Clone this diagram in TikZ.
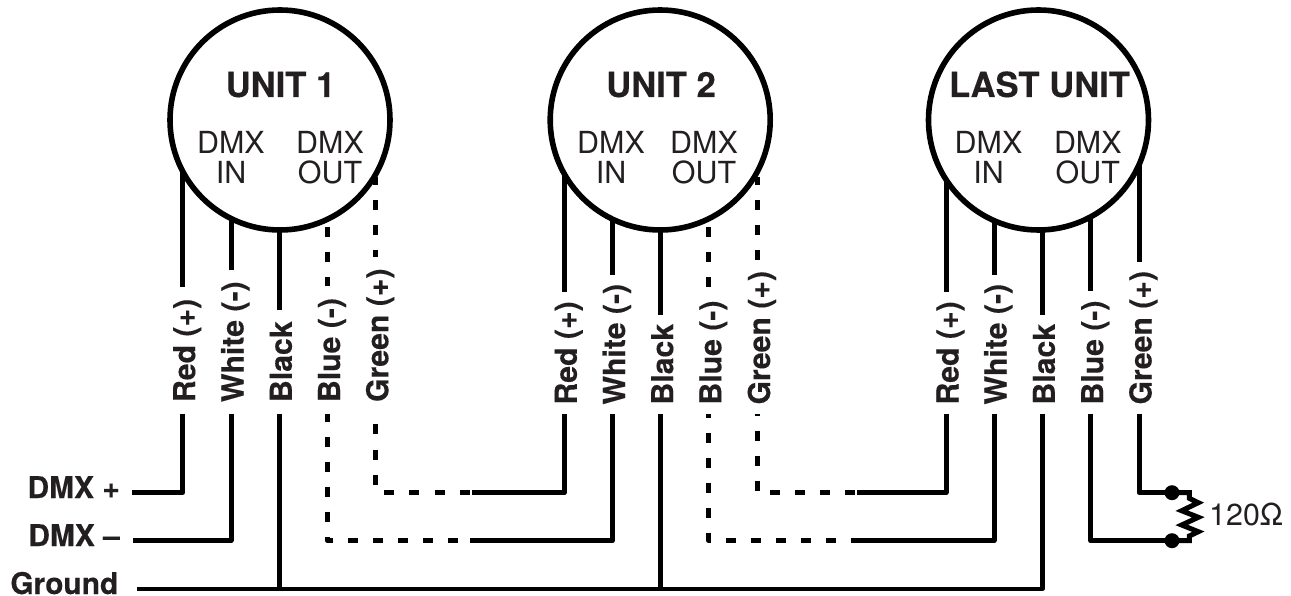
\documentclass[tikz,border=0pt]{standalone}
\usepackage{fontspec}
\setmainfont[BoldFeatures={FakeBold=0.25}]{TeX Gyre Heros}
\definecolor{ink}{HTML}{231F20}
\tikzset{
  unitbox/.style={circle,draw=black,line width=5.6pt,minimum size=220pt,inner sep=0pt,fill=white},
  title/.style={anchor=base,inner sep=0pt,text=ink,font=\fontsize{34.6}{36}\selectfont\bfseries},
  port/.style={anchor=center,inner sep=0pt,align=center,text=ink,font=\fontsize{30.4}{30}\selectfont},
  lab/.style={rotate=90,anchor=west,inner xsep=9pt,inner ysep=0pt,outer sep=0pt,text height=25pt,text depth=0pt,text=ink,font=\fontsize{30.2}{30}\selectfont\bfseries},
  labhigh/.style={lab,inner xsep=11.5pt},
  side/.style={anchor=base east,inner sep=0pt,text=ink,font=\fontsize{29.9}{30}\selectfont\bfseries},
  wire/.style={draw=black,line width=5pt,line join=round},
  dashwire/.style={wire,dash pattern=on 10pt off 15pt},
  dot/.style={circle,fill=black,minimum size=15pt,inner sep=0pt}
}
\begin{document}
\begin{tikzpicture}[x=1pt,y=-1pt]
\useasboundingbox (0,0) rectangle (1291,596);
% labels on the wires
\node[labhigh] (a1) at (182.7,413.5) {Red (+)};
\node[labhigh] (a2) at (231,413.5) {White (-)};
\node[labhigh] (a3) at (279.3,413.5) {Black};
\node[labhigh] (a4) at (327.5,413.5) {Blue (-)};
\node[labhigh] (a5) at (375.8,413.5) {Green (+)};
\node[lab] (b1) at (564.3,413.5) {Red (+)};
\node[lab] (b2) at (612.5,413.5) {White (-)};
\node[lab] (b3) at (660.7,413.5) {Black};
\node[lab] (b4) at (708.8,413.5) {Blue (-)};
\node[lab] (b5) at (757.5,413.5) {Green (+)};
\node[lab] (c1) at (946,413.5) {Red (+)};
\node[lab] (c2) at (994,413.5) {White (-)};
\node[lab] (c3) at (1042.3,413.5) {Black};
\node[lab] (c4) at (1090.7,413.5) {Blue (-)};
\node[lab] (c5) at (1139,413.5) {Green (+)};
% points where wires meet the circles
\coordinate (a1t) at (182.7,172);
\coordinate (a2t) at (231,218);
\coordinate (a3t) at (279.3,230);
\coordinate (a4t) at (327.5,227);
\coordinate (a5t) at (375.8,177);
\coordinate (b1t) at (564.3,172);
\coordinate (b2t) at (612.5,218);
\coordinate (b3t) at (660.7,230);
\coordinate (b4t) at (708.8,227);
\coordinate (b5t) at (757.5,177);
\coordinate (c1t) at (946,180);
\coordinate (c2t) at (994,220);
\coordinate (c3t) at (1042.3,230);
\coordinate (c4t) at (1090.7,218);
\coordinate (c5t) at (1139,165);
% free ends and joints
\coordinate (ps) at (132,492.7);
\coordinate (ms) at (133,540.7);
\coordinate (gs) at (137,589);
\coordinate (j1) at (472,492.7);
\coordinate (j2) at (470,540.7);
\coordinate (j3) at (857,492.7);
\coordinate (j4) at (857,540.7);
% upper wire parts
\foreach \n in {a1,a2,a3,b1,b2,b3,c1,c2,c3,c4,c5}{\draw[wire] (\n t) -- (\n.east);}
\draw[dashwire] (a4t) -- (a4.east);
\draw[dashwire,dash phase=2pt] (a5t) -- (a5.east);
\draw[dashwire] (b4t) -- (b4.east);
\draw[dashwire,dash phase=2pt] (b5t) -- (b5.east);
% lower wire parts
\draw[wire] (a1.west) |- (ps);
\draw[wire] (a2.west) |- (ms);
\draw[wire,line width=4.4pt] (c3.west) |- (gs);
\draw[wire] (a3.west) -- (a3.west |- gs);
\draw[wire] (b3.west) -- (b3.west |- gs);
\draw[wire] (b1.west) |- (j1);
\draw[wire] (b2.west) |- (j2);
\draw[wire] (c1.west) |- (j3);
\draw[wire] (c2.west) |- (j4);
\draw[wire,dash pattern=on 10pt off 15.5pt,dash phase=15pt] (a5.west) |- (j1);
\draw[dashwire,dash phase=2pt] (a4.west) |- (j2);
\draw[wire,dash pattern=on 10pt off 15pt,dash phase=8pt] (b5.west) |- (j3);
\draw[dashwire,dash phase=6pt] (b4.west) |- (j4);
% terminator
\node[dot] (d1) at (1172,492.7) {};
\node[dot] (d2) at (1172,540.7) {};
\draw[wire] (c5.west) |- (d1.center);
\draw[wire] (c4.west) |- (d2.center);
\draw[wire,line join=miter] (d1.center) -- (1189.3,492.7) -- (1189.3,498.3) -- (1198.3,502.7) -- (1181.7,510.7) -- (1198.3,517.3) -- (1181.7,525) -- (1198.3,531.7) -- (1189.3,536) -- (1189.3,540.7) -- (d2.center);
\node[anchor=base west,inner sep=0pt,text=ink,font=\fontsize{30.4}{30}\selectfont] (ohm) at (1209,525) {120Ω};
% units
\node[unitbox] (u1) at (280,120) {};
\node[unitbox] (u2) at (660.2,120) {};
\node[unitbox] (u3) at (1038.5,120) {};
\node[title] (t1) at (280.5,97) {UNIT 1};
\node[title] (t2) at (661,97) {UNIT 2};
\node[title] (t3) at (1039.5,97) {LAST UNIT};
\node[port] (i1) at (231,157.5) {DMX\\IN};
\node[port] (o1) at (330,157.5) {DMX\\OUT};
\node[port] (i2) at (611,157.5) {DMX\\IN};
\node[port] (o2) at (704,157.5) {DMX\\OUT};
\node[port] (i3) at (988.5,157.5) {DMX\\IN};
\node[port] (o3) at (1087.8,157.5) {DMX\\OUT};
% side labels
\node[side] (sp) at (120,498) {DMX +};
\node[side] (sm) at (120,546) {DMX –};
\node[side] (sg) at (118.5,594) {Ground};
\end{tikzpicture}
\end{document}
